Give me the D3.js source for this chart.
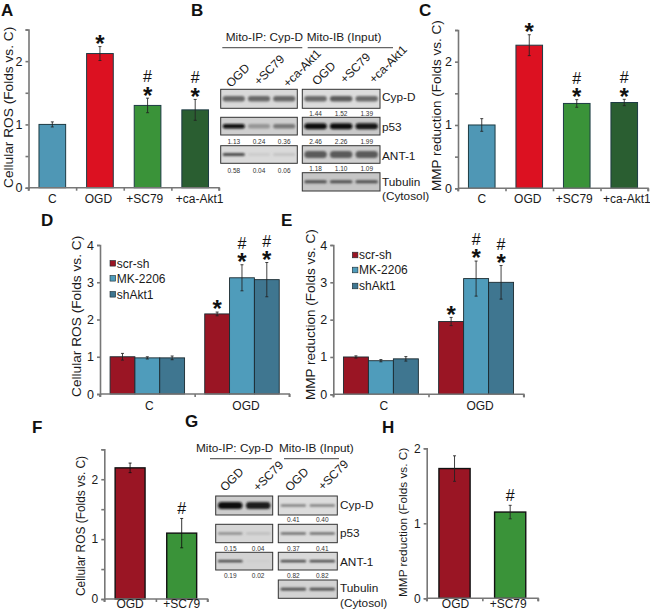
<!DOCTYPE html>
<html><head><meta charset="utf-8">
<style>
html,body{margin:0;padding:0;background:#fff}
svg{display:block}
text{font-family:"Liberation Sans",Arial,sans-serif;fill:#1a1a1a}
</style>
<script src="https://d3js.org/d3.v7.min.js"></script>
</head><body><svg id="c" width="650" height="611"></svg>
<script>
// ---- Data ----
const catsACD = ["C","OGD","+SC79","+ca-Akt1"];
const catsGroup = ["C","OGD"];
const catsFH = ["OGD","+SC79"];
const seriesNames = ["scr-sh","MK-2206","shAkt1"];

const aValues = [1.0,2.12,1.3,1.23];
const aErrors = [0.04,0.11,0.115,0.165];
const aSig = ["","*","#*","#*"];

const cValues = [1.0,2.26,1.34,1.355];
const cErrors = [0.1,0.165,0.06,0.05];
const cSig = ["","*","#*","#*"];

const dValues = [[1.0,0.97,0.97],[2.15,3.12,3.07]];
const dErrors = [[0.09,0.03,0.05],[0.05,0.35,0.46]];
const dSig = [["","",""],["*","#*","#*"]];

const eValues = [[1.0,0.9,0.95],[1.95,3.1,3.0]];
const eErrors = [[0.03,0.03,0.06],[0.11,0.47,0.45]];
const eSig = [["","",""],["*","#*","#*"]];

const fValues = [2.19,1.10];
const fErrors = [0.08,0.245];
const fSig = ["","#"];

const hValues = [1.73,1.15];
const hErrors = [0.17,0.09];
const hSig = ["","#"];

// western blot lanes: band strength per lane, and the printed quantification
const laneB = ["OGD","+SC79","+ca-Akt1"];
const laneG = ["OGD","+SC79"];
const bIpCyp=[.55,.55,.55], bIpP53=[1,.3,.45], bIpAnt=[.7,.07,.1];
const bInCyp=[.55,.62,.55], bInP53=[1,1,.95], bInAnt=[.6,.6,.6], bTub=[.65,.65,.65];
const bInCypN=["1.44","1.52","1.39"], bIpP53N=["1.13","0.24","0.36"], bInP53N=["2.46","2.26","1.99"];
const bIpAntN=["0.58","0.04","0.06"], bInAntN=["1.18","1.10","1.09"];
const gIpCyp=[1,.92], gIpP53=[.45,.15], gIpAnt=[.75,.03];
const gInCyp=[.55,.55], gInP53=[.65,.65], gInAnt=[.75,.75], gTub=[.7,.7];
const gInCypN=["0.41","0.40"], gIpP53N=["0.15","0.04"], gInP53N=["0.37","0.41"];
const gIpAntN=["0.19","0.02"], gInAntN=["0.82","0.82"];

// ---- Styles ----
const RED="#dc1121", DRED="#9a1524", TEAL="#4f97b5", LTEAL="#4f9cbb", STEEL="#3f7690", GREEN="#3a9339", DGREEN="#2a5e31";
const colACD=[TEAL,RED,GREEN,DGREEN], colGroup=[DRED,LTEAL,STEEL], colFH=[DRED,GREEN];
const AXIS="#777";

const svg=d3.select("#c");
const defs=svg.append("defs");
defs.append("filter").attr("id","blur").attr("x","-20%").attr("y","-80%").attr("width","140%").attr("height","260%")
  .append("feGaussianBlur").attr("stdDeviation","0.9 0.8");

function letter(t,x,y){svg.append("text").attr("x",x).attr("y",y).attr("font-size",17).attr("font-weight","bold").style("fill","#111").text(t);}
function vlabel(t,cx,y0,size){svg.append("text").attr("transform",`translate(${cx},${y0}) rotate(-90)`).attr("font-size",size).text(t);}

function sigMarks(sel,x,top,sig){
  if(!sig) return;
  const hasStar=sig.includes("*"), hasHash=sig.includes("#");
  const t=sel.append("text").attr("text-anchor","middle").style("fill","#111");
  if(hasHash){const cy=hasStar?top-22:top-10;
    t.append("tspan").attr("x",x).attr("y",cy+6).attr("font-size",16).text("#");}
  if(hasStar) t.append("tspan").attr("x",x).attr("y",top-8+13.4)
    .attr("font-size",24).attr("font-weight","bold").text("*");
}
function errBar(sel,x,y,v,e,w,col){
  sel.append("path").attr("d",`M${x},${y(v+e)}V${y(v-e)}M${x-w},${y(v+e)}H${x+w}M${x-w},${y(v-e)}H${x+w}`)
    .attr("fill","none").attr("stroke",col).attr("stroke-width",1).attr("stroke-opacity",.85);
}
function axes(o,xs,y,boundaries){
  const g=svg.append("g");
  const ya=d3.axisLeft(y).tickValues(o.yTicks).tickSize(3).tickPadding(3).tickFormat(d=>Number.isInteger(d)?d:"");
  const gy=g.append("g").attr("transform",`translate(${o.x0},0)`).call(ya);
  gy.selectAll("text").attr("font-size",o.tick).attr("font-family",null).style("fill","#1a1a1a");
  gy.selectAll("path,line").attr("stroke",AXIS).attr("stroke-width",o.sw||1.6);
  const xa=d3.axisBottom(d3.scaleLinear().domain([o.x0,o.x1]).range([o.x0,o.x1]))
     .tickValues(boundaries).tickSize(3).tickFormat("");
  const gx=g.append("g").attr("transform",`translate(0,${o.y0})`).call(xa);
  gx.selectAll("path,line").attr("stroke",AXIS).attr("stroke-width",o.sw||1.6);
  gx.select("path").attr("d",`M${o.x0},0H${o.x1}V3M${o.x0},0V3`);
  const shift=o.shift||xs.domain().map(()=>0);
  xs.domain().forEach((c,i)=>g.append("text").attr("x",xs(c)+xs.bandwidth()/2+shift[i]).attr("y",o.labelY)
     .attr("text-anchor","middle").attr("font-size",o.xtick||12).text(c));
}
function simple(o){
  const y=d3.scaleLinear().domain([0,o.yMax]).range([o.y0,o.yTop]);
  const x=d3.scaleBand().domain(o.cats).range([o.x0,o.x1]).paddingInner(o.pad).paddingOuter(o.pad/2);
  const step=x.step();
  const bounds=d3.range(o.cats.length+1).map(i=>o.x0+i*step);
  const g=svg.append("g");
  g.selectAll("rect").data(o.values).join("rect")
    .attr("x",(d,i)=>x(o.cats[i])).attr("y",d=>y(d)).attr("width",x.bandwidth()).attr("height",d=>o.y0-y(d))
    .attr("fill",(d,i)=>o.colors[i]).attr("stroke",o.border).attr("stroke-width",o.bw);
  o.values.forEach((v,i)=>{const cx=x(o.cats[i])+x.bandwidth()/2;
    errBar(g,cx,y,v,o.errors[i],1.5,o.errCol||"#222");
    sigMarks(g,cx,y(v+o.errors[i]),o.sig[i]);});
  axes(o,x,y,bounds);
}
function grouped(o){
  const y=d3.scaleLinear().domain([0,o.yMax]).range([o.y0,o.yTop]);
  const x=d3.scaleBand().domain(o.cats).range([o.x0,o.x1]).paddingInner(o.pad).paddingOuter(o.pad/2);
  const x1=d3.scaleBand().domain(seriesNames).range([0,x.bandwidth()]);
  const bounds=d3.range(o.cats.length+1).map(i=>o.x0+i*x.step());
  o.cats.forEach((c,ci)=>{
    const g=svg.append("g").attr("transform",`translate(${x(c)},0)`);
    seriesNames.forEach((s,si)=>{
      const v=o.values[ci][si];
      g.append("rect").attr("x",x1(s)).attr("y",y(v)).attr("width",x1.bandwidth()).attr("height",o.y0-y(v))
       .attr("fill",colGroup[si]).attr("stroke","#1b2a30").attr("stroke-width",.9);
    });
    seriesNames.forEach((s,si)=>{
      const v=o.values[ci][si], cx=x1(s)+x1.bandwidth()/2;
      errBar(g,cx,y,v,o.errors[ci][si],1.5,"#222");
      sigMarks(g,cx,y(v+o.errors[ci][si]),o.sig[ci][si]);
    });
  });
  axes(o,x,y,bounds);
  const ly=o.legendY;
  seriesNames.forEach((s,i)=>{
    svg.append("rect").attr("x",o.legendX).attr("y",ly[i]-2.8).attr("width",5.6).attr("height",5.6)
      .attr("fill",colGroup[i]).attr("stroke","#1b2a30").attr("stroke-width",.6);
    svg.append("text").attr("x",o.legendX+6.8).attr("y",ly[i]+4.3).attr("font-size",12).text(s);
  });
}
function blot(x0,x1,top,bottom,lanes,strength,thick,bg,nums,numY){
  const x=d3.scaleBand().domain(lanes).range([x0,x1]).paddingInner(.12).paddingOuter(.08);
  const g=svg.append("g");
  g.append("rect").attr("x",x0).attr("y",top).attr("width",x1-x0).attr("height",bottom-top).attr("fill",bg);
  const cy=(top+bottom)/2;
  const gray=d3.scaleLinear().domain([0,1]).range([bg,"#0c0c0c"]);
  lanes.forEach((l,i)=>{
    g.append("rect").attr("x",x(l)).attr("y",cy-thick/2).attr("width",x.bandwidth()).attr("height",thick)
     .attr("rx",thick/2).attr("fill",gray(strength[i])).attr("filter","url(#blur)");
  });
  g.append("rect").attr("x",x0).attr("y",top).attr("width",x1-x0).attr("height",bottom-top)
    .attr("fill","none").attr("stroke","#333").attr("stroke-width",1);
  if(nums) nums.forEach((n,i)=>svg.append("text").attr("x",x(lanes[i])+x.bandwidth()/2).attr("y",numY)
     .attr("text-anchor","middle").attr("font-size",6.5).style("fill","#333").text(n));
}
function rotated(t,x,y,size){svg.append("text").attr("transform",`translate(${x},${y}) rotate(-45)`).attr("font-size",size).text(t);}
function head(t,x,y,size){svg.append("text").attr("x",x).attr("y",y).attr("font-size",size).text(t);}
function rule(x0,x1,y){svg.append("line").attr("x1",x0).attr("x2",x1).attr("y1",y).attr("y2",y).attr("stroke","#666").attr("stroke-width",1.2);}

// ---- Panels ----
letter("A",1,15.5); letter("B",191,15.5); letter("C",419,15.5);
letter("D",41,226); letter("E",281,226);
letter("F",32,433); letter("G",185,427); letter("H",382,433);

const t25=[0,.5,1,1.5,2,2.5];
simple({cats:catsACD,values:aValues,errors:aErrors,sig:aSig,colors:colACD,border:"#1d3b44",bw:1,
  x0:28.5,x1:219,y0:187.7,yTop:29.5,yMax:2.5,yTicks:t25,pad:.44,tick:12.5,labelY:203,shift:[0,-1.5,-2.8,4.5]});
vlabel("Cellular ROS (Folds vs. C)",13,188,13.7);

simple({cats:catsACD,values:cValues,errors:cErrors,sig:cSig,colors:colACD,border:"#1d3b44",bw:1,
  x0:458,x1:648,y0:188.3,yTop:30,yMax:2.5,yTicks:t25,pad:.44,tick:12.5,labelY:203,shift:[0,-1.5,-2.5,2.6]});
vlabel("MMP reduction (Folds vs. C)",441,191,13.5);

grouped({cats:catsGroup,values:dValues,errors:dErrors,sig:dSig,x0:100,x1:289.3,y0:394,yTop:245,yMax:4,
  yTicks:[0,1,2,3,4],pad:.213,tick:12.5,labelY:409.5,shift:[2,4],legendX:110,legendY:[263.3,278.3,294.3]});
vlabel("Cellular ROS (Folds vs. C)",81,397,13.7);

grouped({cats:catsGroup,values:eValues,errors:eErrors,sig:eSig,x0:333.3,x1:523.7,y0:394.3,yTop:245,yMax:4,
  yTicks:[0,1,2,3,4],pad:.213,tick:12.5,labelY:409.5,shift:[3,4],legendX:352.3,legendY:[255,270,286]});
vlabel("MMP reduction (Folds vs. C)",315,400,13.5);

simple({cats:catsFH,values:fValues,errors:fErrors,sig:fSig,colors:colFH,border:"#111",bw:1.4,errCol:"#111",
  x0:104.3,x1:207.5,y0:599,yTop:449.3,yMax:2.5,yTicks:t25,pad:.42,tick:12,labelY:608.4});
vlabel("Cellular ROS (Folds vs. C)",85,596,11.9);

simple({cats:catsFH,values:hValues,errors:hErrors,sig:hSig,colors:colFH,border:"#111",bw:1.4,
  x0:426.7,x1:538,y0:598.3,yTop:448.3,yMax:2,yTicks:[0,1,2],pad:.44,tick:12,labelY:608.4,shift:[1,-2]});
vlabel("MMP reduction (Folds vs. C)",407,597,11.8);

// Panel B
head("Mito-IP: Cyp-D",225.7,41,11.8); head("Mito-IB (Input)",306.7,41,11.8);
rule(222.3,302.3,47.7); rule(307.7,393,47.7);
[[227,88],[255,86],[284,88]].forEach((p,i)=>rotated(laneB[i],p[0]+4,p[1],12));
[[313,86],[341,84],[370,84]].forEach((p,i)=>rotated(laneB[i],p[0]+4,p[1],12));
const bL=[220.7,297.3], bR=[302.3,380];
blot(bL[0],bL[1],89.3,108.3,laneB,bIpCyp,5.5,"#d9d9d9");
blot(bR[0],bR[1],89.3,108.3,laneB,bInCyp,5.5,"#dcdcdc",bInCypN,115.5);
blot(bL[0],bL[1],117.3,135,laneB,bIpP53,4.5,"#cfcfcf",bIpP53N,143.5);
blot(bR[0],bR[1],117.3,135,laneB,bInP53,6,"#c9c9c9",bInP53N,143.5);
blot(bL[0],bL[1],145.7,163.3,laneB,bIpAnt,3,"#dadada",bIpAntN,172.5);
blot(bR[0],bR[1],145.7,163.3,laneB,bInAnt,7,"#cfcfcf",bInAntN,170.5);
blot(bR[0],bR[1],172.7,191,laneB,bTub,3,"#c6c6c6");
[["Cyp-D",101],["p53",130.5],["ANT-1",159.5],["Tubulin",186],["(Cytosol)",200]].forEach(d=>head(d[0],382,d[1],11.8));

// Panel G
head("Mito-IP: Cyp-D",196,452,11.8); head("Mito-IB (Input)",279,452,11.8);
rule(210,271.7,458.7); rule(284,339,458.7);
[[225,492],[258,492]].forEach((p,i)=>rotated(laneG[i],p[0],p[1],12));
[[290,492],[323,491]].forEach((p,i)=>rotated(laneG[i],p[0],p[1],12));
const gL=[215.7,272.7], gR=[278.3,337.3];
blot(gL[0],gL[1],496,515,laneG,gIpCyp,7,"#cdcdcd");
blot(gR[0],gR[1],496,515,laneG,gInCyp,2.2,"#dcdcdc",gInCypN,521.5);
blot(gL[0],gL[1],524.3,542.7,laneG,gIpP53,2.2,"#d6d6d6",gIpP53N,550.5);
blot(gR[0],gR[1],524.3,542.7,laneG,gInP53,2.2,"#dcdcdc",gInP53N,550.5);
blot(gL[0],gL[1],552.3,570,laneG,gIpAnt,2.4,"#d3d3d3",gIpAntN,577.5);
blot(gR[0],gR[1],552.3,570,laneG,gInAnt,2.4,"#d9d9d9",gInAntN,577.5);
blot(gR[0],gR[1],580,598.3,laneG,gTub,2.6,"#d3d3d3");
[["Cyp-D",508.5],["p53",537],["ANT-1",565.5],["Tubulin",592],["(Cytosol)",606.5]].forEach(d=>head(d[0],340,d[1],11.8));
</script></body></html>
